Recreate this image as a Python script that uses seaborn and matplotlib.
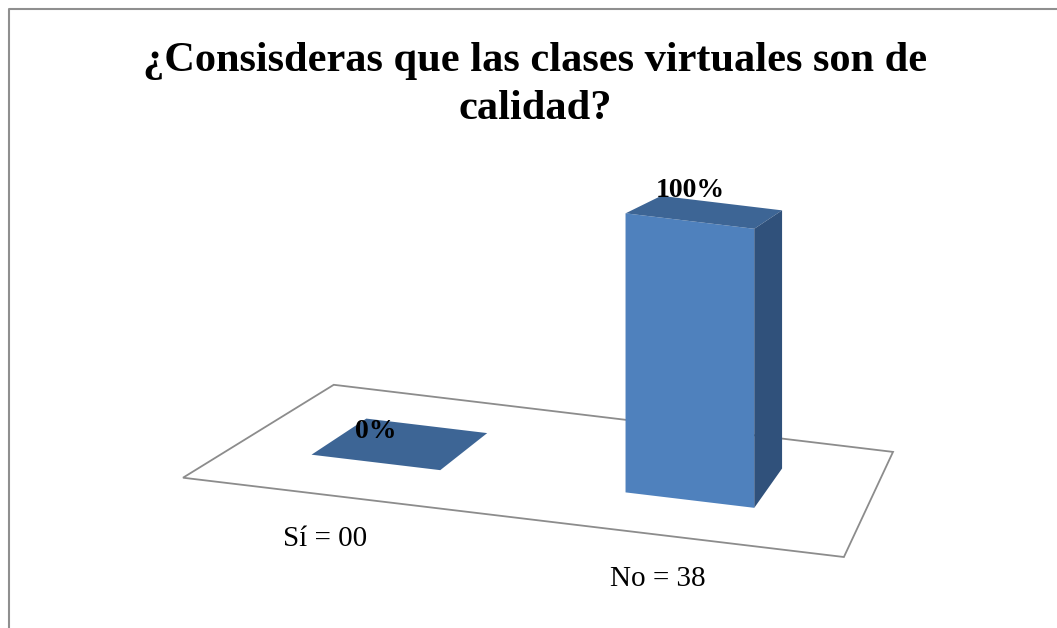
import numpy as np
import pandas as pd
import matplotlib
matplotlib.use("Agg")
import matplotlib.pyplot as plt
import seaborn as sns
from matplotlib.patches import Polygon
from matplotlib.lines import Line2D
from matplotlib.transforms import Affine2D

# survey data
answers = ["Sí", "No"]
counts = [0, 38]
percents = [0, 100]

title = "¿Consisderas que las clases virtuales son de\ncalidad?"

FRONT = "#4F81BD"
TOP = "#3D6595"
SIDE = "#30517B"
FLOOR_EDGE = "#8C8C8C"

# fake 3-D view: depth direction in data units (a bit of perspective)
KX0, KX1 = 0.162, -0.061
KZ0, KZ1 = 15.3, 0.075
BAR_DEPTH = 1.0
SHEAR = 0.12


def proj(x, d, z):
    return (x + d * (KX0 + KX1 * x), z + d * (KZ0 - KZ1 * z))


sns.set_theme(style="white")
plt.rcParams["font.family"] = ["Liberation Serif", "DejaVu Serif"]

df = pd.DataFrame({
    "respuesta": [f"{a} = {c:02d}" for a, c in zip(answers, counts)],
    "porcentaje": percents,
})

fig = plt.figure(figsize=(10.57, 6.28), dpi=100)
ax = fig.add_axes([0, 0, 1, 1])
sns.barplot(data=df, x="respuesta", y="porcentaje", color=FRONT,
            saturation=1, width=0.41, ax=ax, zorder=3)
ax.set_xlim(-1.197, 2.169)
ax.set_ylim(-48.75, 176.3)
ax.set_axis_off()

# tilt everything like the excel perspective
tilt = Affine2D().translate(-622, 0).skew(0, np.arctan(-SHEAR)).translate(622, 0)
T = ax.transData + tilt

bars = list(ax.patches)

# floor (front edge and back edge extents)
fd0, fd1 = -0.9, 1.7
floor = Polygon([proj(-0.444, fd0, 0), proj(1.551, fd0, 0),
                 proj(1.530, fd1, 0), proj(-0.457, fd1, 0)],
                closed=True, facecolor="white", edgecolor=FLOOR_EDGE, lw=1.3,
                transform=T, zorder=1)
ax.add_patch(floor)

for i, p in enumerate(bars):
    x0, w, h = p.get_x(), p.get_width(), p.get_height()
    p.set_transform(T)
    p.set_linewidth(0)
    top = Polygon([proj(x0, 0, h), proj(x0 + w, 0, h),
                   proj(x0 + w, BAR_DEPTH, h), proj(x0, BAR_DEPTH, h)],
                  closed=True, facecolor=TOP, lw=0, transform=T, zorder=3)
    ax.add_patch(top)
    if h > 0:
        side = Polygon([proj(x0 + w, 0, 0), proj(x0 + w, 0, h),
                        proj(x0 + w, BAR_DEPTH, h), proj(x0 + w, BAR_DEPTH, 0)],
                       closed=True, facecolor=SIDE, lw=0, transform=T, zorder=3)
        ax.add_patch(side)
    cx = x0 + w / 2
    ax.annotate(f"{percents[i]}%", xy=(cx, h), xycoords=T, xytext=(0, 22),
                textcoords="offset points", ha="center", va="center",
                fontsize=20, fontweight="bold", color="black", zorder=5)
    ax.annotate(df["respuesta"][i], xy=proj(cx, -1.0, 0), xycoords=T,
                xytext=(0, -28.5), textcoords="offset points", ha="center",
                va="center", fontsize=21, color="black", zorder=5)

fig.text(535 / 1057, 1 - 85 / 628, title, ha="center", va="center",
         fontsize=30.5, fontweight="bold", linespacing=1.35, color="black")

# chart border (only left and top visible)
fig.add_artist(Line2D([8.5 / 1057, 8.5 / 1057, 1], [0, 619 / 628, 619 / 628],
                      transform=fig.transFigure, color="#8F8F8F", lw=1.5))

fig.savefig("out.png", dpi=100)
